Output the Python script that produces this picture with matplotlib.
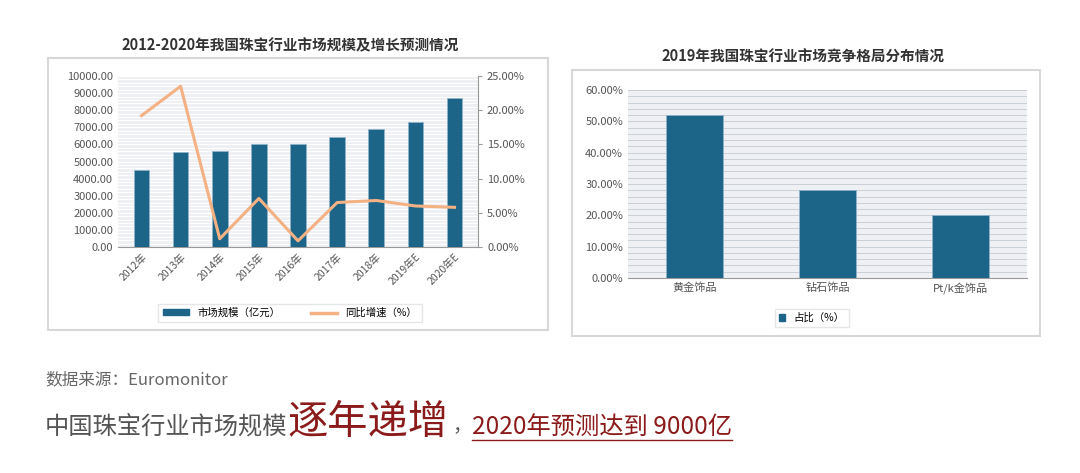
import matplotlib.pyplot as plt
from matplotlib.patches import Rectangle
from matplotlib.ticker import MultipleLocator, FuncFormatter

plt.rcParams["font.family"] = ["Noto Sans CJK SC", "DejaVu Sans"]

years = ["2012年", "2013年", "2014年", "2015年", "2016年", "2017年", "2018年", "2019年E", "2020年E"]
market_size = [4500, 5550, 5600, 6000, 6050, 6450, 6900, 7300, 8700]
growth_pct = [19.2, 23.5, 1.2, 7.1, 0.9, 6.5, 6.8, 6.0, 5.8]

segments = ["黄金饰品", "钻石饰品", "Pt/k金饰品"]
share_pct = [52.0, 28.0, 20.0]

BAR = "#1c6488"
LINE = "#f4b183"
W, H = 1080, 473

fig = plt.figure(figsize=(W / 100, H / 100), dpi=100)


def fx(px):
    return px / W


def fy(py):
    return 1 - py / H


# panel frames, behind the axes
for x0, y0, x1, y1 in [(48, 58, 548, 330), (572, 70, 1040, 336)]:
    fig.patches.append(Rectangle((fx(x0), fy(y1)), fx(x1 - x0), (y1 - y0) / H,
                                 transform=fig.transFigure, fc="white",
                                 ec="#d8d8d8", lw=1.5, zorder=-5))

# left chart
ax = fig.add_axes([fx(118), fy(247), fx(478 - 118), (247 - 76) / H])
x = range(len(years))
ax.bar(x, market_size, width=0.4, color=BAR, ec="#8fb3c8", lw=0.6, zorder=3)
ax.set_ylim(0, 10000)
ax.yaxis.set_major_locator(MultipleLocator(1000))
ax.yaxis.set_minor_locator(MultipleLocator(200))
ax.yaxis.set_major_formatter(FuncFormatter(lambda v, p: f"{v:.2f}"))
ax.set_xlim(-0.6, len(years) - 0.4)
ax.set_xticks(list(x))
ax.set_xticklabels(years, rotation=45, ha="right", rotation_mode="anchor",
                   fontsize=7.5, color="#555")
ax.tick_params(axis="y", which="both", labelsize=8, colors="#555", length=0)
ax.tick_params(axis="x", length=0)
ax.set_facecolor("#eef0f3")
ax.grid(True, axis="y", which="both", color="white", lw=0.8, zorder=0)
ax.set_axisbelow(True)
for s in ax.spines.values():
    s.set_visible(False)
ax.spines["bottom"].set_visible(True)
ax.spines["bottom"].set_color("#999")
ax2 = ax.twinx()
ax2.plot(x, growth_pct, color=LINE, lw=2.2, zorder=4)
ax2.set_ylim(0, 25)
ax2.yaxis.set_major_locator(MultipleLocator(5))
ax2.yaxis.set_major_formatter(FuncFormatter(lambda v, p: f"{v:.2f}%"))
ax2.tick_params(axis="y", labelsize=8, colors="#555", length=3, color="#999")
for s in ax2.spines.values():
    s.set_visible(False)
ax2.spines["right"].set_visible(True)
ax2.spines["right"].set_color("#999")
fig.text(fx(290), fy(45), "2012-2020年我国珠宝行业市场规模及增长预测情况",
         ha="center", va="center", fontsize=10.5, fontweight="bold", color="#333")
h1 = plt.Rectangle((0, 0), 1, 1, color=BAR)
h2, = ax.plot([], [], color=LINE, lw=2.5)
fig.legend([h1, h2], ["市场规模（亿元）", "同比增速（%）"], loc="center",
           bbox_to_anchor=(fx(290), fy(313)), ncol=2, fontsize=7.5,
           frameon=True, edgecolor="#e0e0e0", fancybox=False,
           handlelength=2.5, handleheight=0.5, columnspacing=3)

# right chart
bx = fig.add_axes([fx(628), fy(278), fx(1027 - 628), (278 - 90) / H])
bx.bar(range(len(segments)), share_pct, width=0.43, color=BAR, ec="#8fb3c8",
       lw=0.6, zorder=3)
bx.set_ylim(0, 60)
bx.set_xlim(-0.5, len(segments) - 0.5)
bx.yaxis.set_major_locator(MultipleLocator(10))
bx.yaxis.set_minor_locator(MultipleLocator(2))
bx.yaxis.set_major_formatter(FuncFormatter(lambda v, p: f"{v:.2f}%"))
bx.set_xticks(range(len(segments)))
bx.set_xticklabels(segments, fontsize=8, color="#555")
bx.tick_params(axis="both", which="both", labelsize=8, colors="#555", length=0)
bx.set_facecolor("#eef0f3")
bx.grid(True, axis="y", which="both", color="#c9cfd6", lw=0.7, zorder=0)
bx.set_axisbelow(True)
for s in bx.spines.values():
    s.set_visible(False)
bx.spines["bottom"].set_visible(True)
bx.spines["bottom"].set_color("#999")
fig.text(fx(803), fy(57), "2019年我国珠宝行业市场竞争格局分布情况",
         ha="center", va="center", fontsize=10.5, fontweight="bold", color="#333")
fig.legend([plt.Rectangle((0, 0), 1, 1, color=BAR)], ["占比（%）"], loc="center",
           bbox_to_anchor=(fx(812), fy(318)), fontsize=7.5, frameon=True,
           edgecolor="#e0e0e0", fancybox=False, handlelength=0.6, handleheight=0.6)

# text below
fig.text(fx(45), fy(380), "数据来源：Euromonitor", ha="left", va="center",
         fontsize=12, color="#666")
t1 = fig.text(fx(45), fy(427), "中国珠宝行业市场规模", ha="left", va="center",
              fontsize=17.5, color="#555")
fig.canvas.draw()
bb = t1.get_window_extent()
t2 = fig.text(bb.x1 / W, fy(422), "逐年递增", ha="left", va="center",
              fontsize=29, color="#8b1a1a")
bb = t2.get_window_extent()
t3 = fig.text(bb.x1 / W + 0.004, fy(427), "，", ha="left", va="center",
              fontsize=14, color="#555")
bb = t3.get_window_extent()
t4 = fig.text(bb.x1 / W, fy(427), "2020年预测达到 9000亿", ha="left", va="center",
              fontsize=17.5, color="#8b1a1a")
fig.canvas.draw()
bb = t4.get_window_extent()
fig.add_artist(plt.Line2D([bb.x0 / W, bb.x1 / W], [bb.y0 / H, bb.y0 / H],
                          color="#8b1a1a", lw=1))

fig.savefig("out.png", dpi=100)
